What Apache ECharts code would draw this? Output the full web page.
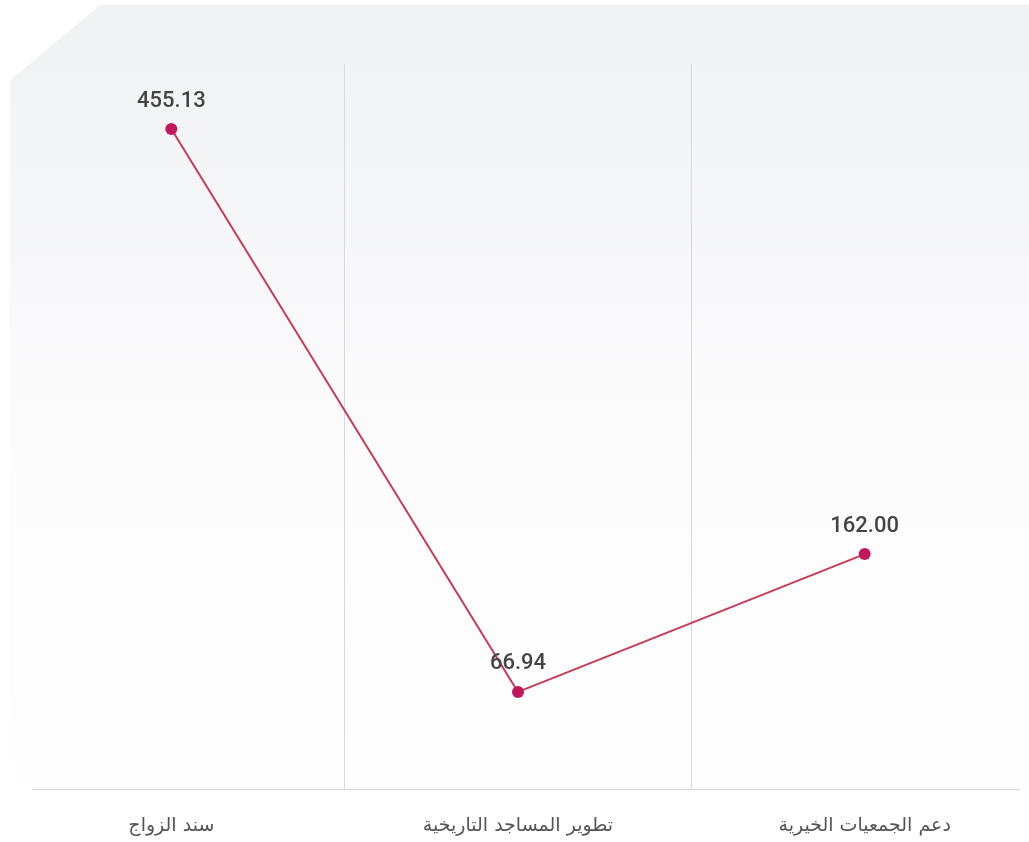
<!DOCTYPE html>
<html>
<head>
<meta charset="utf-8">
<script src="https://cdn.jsdelivr.net/npm/echarts@6/dist/echarts.min.js"></script>
<style>
html,body{margin:0;padding:0;background:#ffffff;}
#chart{width:1029px;height:842px;}
</style>
</head>
<body>
<div id="chart"></div>
<script>
const categories = ['سند الزواج', 'تطوير المساجد التاريخية', 'دعم الجمعيات الخيرية'];
const values = [455.13, 66.94, 162.00];

const chart = echarts.init(document.getElementById('chart'));
const option = {
  animation: false,
  backgroundColor: '#ffffff',
  graphic: [
    {
      type: 'polygon',
      z: -10,
      silent: true,
      shape: { points: [[100, 5], [1029, 5], [1029, 842], [10, 842], [10, 80]] },
      style: {
        fill: {
          type: 'linear', x: 0, y: 0, x2: 0, y2: 1,
          colorStops: [
            { offset: 0, color: '#f1f2f4' },
            { offset: 0.55, color: '#fcfcfd' },
            { offset: 1, color: '#ffffff' }
          ]
        }
      }
    },
    {
      type: 'line',
      z: 5,
      silent: true,
      shape: { x1: 32, y1: 789.5, x2: 1020, y2: 789.5 },
      style: { stroke: '#dcdcdc', lineWidth: 1.5 }
    }
  ],
  grid: { left: -2, width: 1040, top: 64, bottom: 53, containLabel: false, outerBoundsMode: 'none' },
  xAxis: {
    type: 'category',
    data: categories,
    boundaryGap: true,
    axisLine: { show: false },
    axisTick: { show: false },
    splitLine: { show: true, lineStyle: { color: '#d9d9d9', width: 1 } },
    axisLabel: {
      margin: 28,
      fontSize: 19,
      color: '#555555',
      fontFamily: 'DejaVu Sans'
    }
  },
  yAxis: {
    type: 'value',
    min: 0,
    max: 500,
    show: false,
    splitLine: { show: false }
  },
  series: [{
    type: 'line',
    data: values,
    symbol: 'circle',
    symbolSize: 12,
    itemStyle: { color: '#c2185b' },
    lineStyle: { color: '#c93a55', width: 2 },
    label: {
      show: true,
      position: 'top',
      distance: 11,
      fontSize: 22,
      fontWeight: 500,
      color: '#444444',
      fontFamily: 'Roboto',
      formatter: p => p.value.toFixed(2)
    }
  }]
};
chart.setOption(option);
</script>
</body>
</html>
